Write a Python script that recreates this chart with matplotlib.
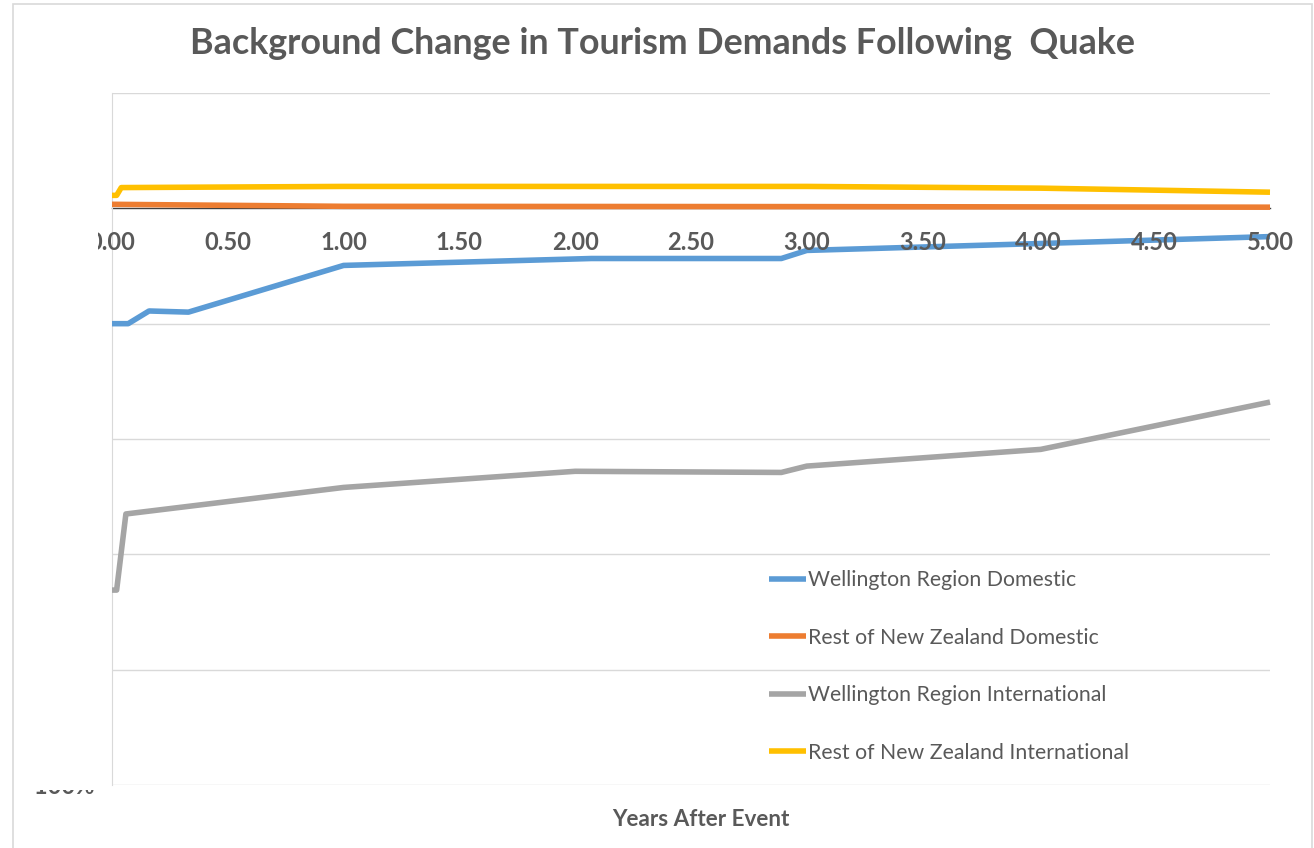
import matplotlib
matplotlib.use("Agg")
import matplotlib.pyplot as plt
from matplotlib.patches import Rectangle

W, H = 1314, 848

# Data (years after event, fractional change)
wd_x = [0.00, 0.07, 0.16, 0.33, 1.00, 2.07, 2.89, 3.00, 4.01, 5.00]
wd_y = [-0.200, -0.200, -0.178, -0.180, -0.099, -0.087, -0.087, -0.073, -0.061, -0.049]

rd_x = [0.00, 1.00, 3.00, 5.00]
rd_y = [0.007, 0.0035, 0.003, 0.002]

wi_x = [0.00, 0.02, 0.06, 1.00, 2.00, 2.89, 3.00, 4.01, 5.00]
wi_y = [-0.662, -0.662, -0.530, -0.484, -0.456, -0.458, -0.447, -0.418, -0.336]

ri_x = [0.00, 0.02, 0.04, 1.00, 3.00, 4.01, 5.00]
ri_y = [0.0225, 0.0225, 0.036, 0.038, 0.038, 0.035, 0.028]

series_names = ["Wellington Region Domestic", "Rest of New Zealand Domestic",
                "Wellington Region International", "Rest of New Zealand International"]
colors = ["#5b9bd5", "#ed7d31", "#a5a5a5", "#ffc000"]

xticks = [0.0, 0.5, 1.0, 1.5, 2.0, 2.5, 3.0, 3.5, 4.0, 4.5, 5.0]
yticks = [-1.0, -0.8, -0.6, -0.4, -0.2, 0.0, 0.2]

title = "Background Change in Tourism Demands Following  Quake"
xlabel = "Years After Event"

FONT = "Lato"
TXT = "#595959"

fig = plt.figure(figsize=(W / 100, H / 100), dpi=100)
fx = lambda px: px / W
fy = lambda py: 1 - py / H

ax = fig.add_axes([fx(112), fy(785), fx(1270) - fx(112), fy(93) - fy(785)])
ax.set_xlim(0, 5)
ax.set_ylim(-1.0, 0.2)

for y in yticks:
    if y != 0.0:
        ax.axhline(y, color="#d9d9d9", lw=1.0, zorder=1)

for xs, ys, c, n in [(wd_x, wd_y, colors[0], series_names[0]),
                     (rd_x, rd_y, colors[1], series_names[1]),
                     (wi_x, wi_y, colors[2], series_names[2]),
                     (ri_x, ri_y, colors[3], series_names[3])]:
    ax.plot(xs, ys, color=c, lw=4, label=n, solid_joinstyle="round",
            solid_capstyle="butt", zorder=3, clip_on=False)

for s in ["top", "right"]:
    ax.spines[s].set_visible(False)
ax.spines["left"].set_color("#d9d9d9")
ax.spines["bottom"].set_position(("data", 0))
ax.spines["bottom"].set_color("#404040")
ax.spines["bottom"].set_linewidth(1.0)
ax.spines["bottom"].set_zorder(2)

ax.set_xticks(xticks)
ax.set_xticklabels([f"{v:.2f}" for v in xticks], fontsize=17, fontweight="bold",
                   color=TXT, family=FONT)
ax.tick_params(axis="x", length=0, pad=16)
ax.xaxis.set_zorder(4)
ax.set_yticks([])

leg = ax.legend(loc="upper left", bbox_to_anchor=((760 - 112) / (1270 - 112), (785 - 562) / (785 - 93)),
                frameon=False, prop={"family": FONT, "size": 15.3}, labelspacing=1.76,
                handlelength=1.75, handletextpad=0.1, borderaxespad=0)
for t in leg.get_texts():
    t.set_color(TXT)

fig.text(fx(662), fy(44), title, ha="center", va="center", fontsize=25.8,
         fontweight="bold", color=TXT, family=FONT)
fig.text(fx(701), fy(820), xlabel, ha="center", va="center", fontsize=16.2,
         fontweight="bold", color=TXT, family=FONT)

# partially hidden y label at bottom
fig.text(fx(60), fy(786), "-100%", ha="center", va="center", fontsize=17,
         fontweight="bold", color=TXT, family=FONT, zorder=2)
fig.patches.append(Rectangle((fx(15), fy(790)), fx(98) - fx(15), fy(60) - fy(790),
                             transform=fig.transFigure, facecolor="white",
                             edgecolor="none", zorder=5))
# outer border
fig.patches.append(Rectangle((fx(13), fy(860)), fx(1312) - fx(13), fy(4) - fy(860),
                             transform=fig.transFigure, facecolor="none",
                             edgecolor="#d9d9d9", lw=1.2, zorder=6, clip_on=False))

fig.savefig("out.png", dpi=100, facecolor="white")
